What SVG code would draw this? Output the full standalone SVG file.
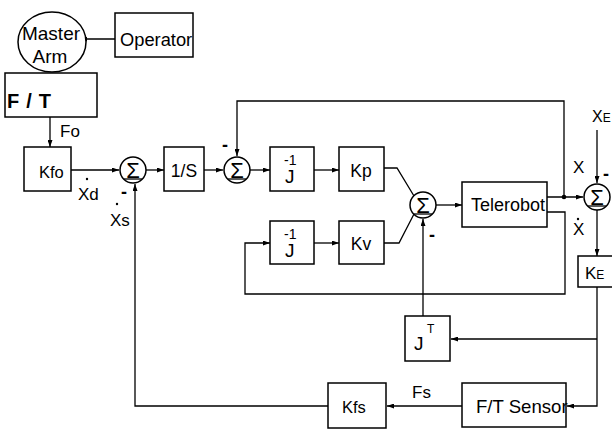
<svg xmlns="http://www.w3.org/2000/svg" width="612" height="433" viewBox="0 0 612 433">
<defs>
<style>
.b{fill:#fff;stroke:#000;stroke-width:1.5}
.c{fill:none;stroke:#000;stroke-width:1.3}
.t{font-family:"Liberation Sans",Arial,sans-serif;fill:#000}
.m{font-family:"Liberation Sans",Arial,sans-serif;fill:#000;font-weight:bold;font-size:18px}
.sg{font-family:"Liberation Sans",Arial,sans-serif;fill:#000;font-size:22px;text-anchor:middle}
</style>
<marker id="ah" viewBox="0 0 7 5" refX="7" refY="2.5" markerWidth="7" markerHeight="5" orient="auto" markerUnits="userSpaceOnUse">
<path d="M0,0 L7,2.5 L0,5 z" fill="#000"/>
</marker>
</defs>
<rect width="612" height="433" fill="#fff"/>

<g id="connectors" class="c" marker-end="url(#ah)">
<path d="M115,39 L80,39"/>
<path d="M50,117 L50,147"/>
<path d="M71,170 L119,170"/>
<path d="M146,170 L164,170"/>
<path d="M204,170 L223,170"/>
<path d="M564,197 L564,101 L237,101 L237,156"/>
<path d="M250,170 L270,170"/>
<path d="M314,170 L339,170"/>
<path d="M384,168 L397,168 L414,196" marker-end="none"/>
<path d="M384,243 L399,243 L414,214" marker-end="none"/>
<path d="M314,243 L339,243"/>
<path d="M547,212 L565,212 L565,294 L245,294 L245,243 L270,243"/>
<path d="M436,205 L462,205"/>
<path d="M547,197 L583,197"/>
<path d="M597,130 L597,183"/>
<path d="M597,210 L597,256"/>
<path d="M597,287 L597,406 L567,406"/>
<path d="M597,339 L451,339"/>
<path d="M423,316 L423,219"/>
<path d="M462,406 L387,406"/>
<path d="M328,406 L135,406 L135,184"/>
</g>
<circle cx="564" cy="197" r="2.3" fill="#000"/>

<g id="master-arm">
<ellipse cx="52" cy="42" rx="34" ry="30" class="b"/>
<text class="t" x="51" y="40" font-size="19" text-anchor="middle">Master</text>
<text class="t" x="50" y="63" font-size="19" text-anchor="middle">Arm</text>
</g>

<g id="operator">
<rect x="115" y="13" width="78" height="44" class="b"/>
<text class="t" x="120" y="46" font-size="18.3">Operator</text>
</g>

<g id="ft">
<rect x="5" y="73" width="92" height="44" class="b"/>
<text class="t" x="7" y="108" font-size="20" font-weight="bold" letter-spacing="7">F/T</text>
</g>
<text class="t" x="60" y="137" font-size="17">Fo</text>

<g id="kfo">
<rect x="24" y="147" width="47" height="44" class="b"/>
<text class="t" x="39" y="178" font-size="16.5">Kfo</text>
</g>
<circle cx="87" cy="179" r="1.2" fill="#000"/>
<text class="t" x="78" y="200" font-size="17">Xd</text>
<circle cx="117" cy="204" r="1.2" fill="#000"/>
<text class="t" x="110" y="226" font-size="17">Xs</text>

<g id="sum1">
<circle cx="133" cy="170" r="13" class="b"/>
<text class="sg" x="133" y="178">Σ</text>
<line x1="124" y1="179" x2="142" y2="179" class="c"/>
<text class="m" x="121" y="198">-</text>
</g>

<g id="integrator">
<rect x="164" y="147" width="40" height="44" class="b"/>
<text class="t" x="184" y="177" font-size="17.5" text-anchor="middle">1/S</text>
</g>

<g id="sum2">
<circle cx="237" cy="170" r="13" class="b"/>
<text class="sg" x="237" y="178">Σ</text>
<line x1="228" y1="179" x2="246" y2="179" class="c"/>
<text class="m" x="222" y="151">-</text>
</g>

<g id="jinv1">
<rect x="270" y="147" width="44" height="44" class="b"/>
<text class="t" x="285" y="183" font-size="19">J</text>
<text class="t" x="284" y="165" font-size="14">-1</text>
</g>

<g id="kp">
<rect x="339" y="147" width="45" height="44" class="b"/>
<text class="t" x="361" y="177" font-size="17.5" text-anchor="middle">Kp</text>
</g>

<g id="jinv2">
<rect x="270" y="221" width="44" height="43" class="b"/>
<text class="t" x="285" y="257" font-size="19">J</text>
<text class="t" x="284" y="239" font-size="14">-1</text>
</g>

<g id="kv">
<rect x="339" y="221" width="45" height="43" class="b"/>
<text class="t" x="361" y="250" font-size="17.5" text-anchor="middle">Kv</text>
</g>

<g id="sum3">
<circle cx="423" cy="205" r="13" class="b"/>
<text class="sg" x="423" y="213">Σ</text>
<line x1="414" y1="214" x2="432" y2="214" class="c"/>
<text class="m" x="429" y="241">-</text>
</g>

<g id="telerobot">
<rect x="462" y="182" width="85" height="45" class="b"/>
<text class="t" x="471" y="211" font-size="18">Telerobot</text>
</g>

<g id="sum4">
<circle cx="597" cy="197" r="13" class="b"/>
<text class="sg" x="597" y="205">Σ</text>
<line x1="588" y1="206" x2="606" y2="206" class="c"/>
<text class="m" x="603" y="180">-</text>
</g>
<text class="t" x="592" y="122" font-size="16">X<tspan font-size="12">E</tspan></text>
<text class="t" x="573" y="173" font-size="17">X</text>
<circle cx="578" cy="219" r="1.2" fill="#000"/>
<text class="t" x="573" y="235" font-size="17">X</text>

<g id="ke">
<rect x="578" y="256" width="40" height="31" class="b"/>
<text class="t" x="585" y="279" font-size="17">K<tspan font-size="12">E</tspan></text>
</g>

<g id="jt">
<rect x="405" y="316" width="45" height="45" class="b"/>
<text class="t" x="414" y="350" font-size="19">J</text>
<text class="t" x="427" y="333" font-size="12">T</text>
</g>

<g id="ft-sensor">
<rect x="462" y="383" width="104" height="44" class="b"/>
<text class="t" x="476" y="413" font-size="18.6">F/T Sensor</text>
</g>
<text class="t" x="412" y="398" font-size="17">Fs</text>

<g id="kfs">
<rect x="328" y="383" width="58" height="45" class="b"/>
<text class="t" x="342" y="413" font-size="16.5">Kfs</text>
</g>
</svg>
